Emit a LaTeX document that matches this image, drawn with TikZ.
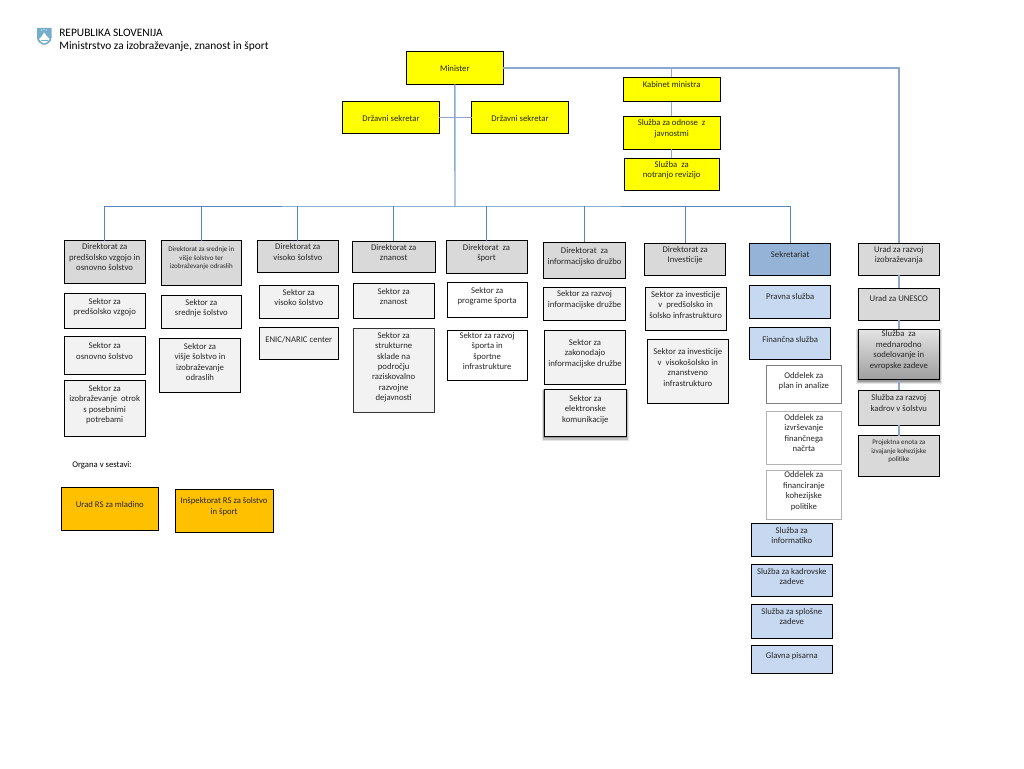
\documentclass[tikz,border=0pt]{standalone}
\usepackage{fontspec}
\setmainfont{Carlito}
\definecolor{lnA}{HTML}{5585BC}
\definecolor{lnB}{HTML}{8CA8D0}
\definecolor{yel}{HTML}{FFFF00}
\definecolor{gry}{HTML}{D9D9D9}
\definecolor{lgt}{HTML}{F2F2F2}
\definecolor{blu}{HTML}{C6D9F1}
\definecolor{dbl}{HTML}{95B3D7}
\definecolor{org}{HTML}{FFC000}
\definecolor{txt}{HTML}{262626}
\definecolor{shieldblue}{HTML}{74AEC9}
\newcommand{\bx}[8]{%
  \pgfmathsetmacro\bw{#5-#3}\pgfmathsetmacro\bh{#6-#4}\pgfmathsetmacro\bt{#7-#4-4.0}%
  \pgfmathsetmacro\cx{(#3+#5)/2}\pgfmathsetmacro\cy{(#4+#6)/2}%
  \node[#2] (#1) at (\cx,\cy) {\parbox[c][\bh pt][t]{\bw pt}{\centering\vspace*{\bt pt}\leavevmode\strut #8}};%
}
\tikzset{
  x=1pt,y=-1pt,
  boxbase/.style={draw=black,line width=1pt,inner sep=0pt,outer sep=0pt,text=txt,font=\fontsize{8.7}{10.4}\selectfont},
  yelbox/.style={boxbase,fill=yel,text=black!85!yel},
  grybox/.style={boxbase,fill=gry},
  lgtbox/.style={boxbase,fill=lgt},
  whtbox/.style={boxbase,fill=white},
  blubox/.style={boxbase,fill=blu},
  dblbox/.style={boxbase,fill=dbl},
  orgbox/.style={boxbase,fill=org},
  smalltext/.style={font=\fontsize{7}{8.5}\selectfont},
  softgrey/.style={draw=black!30},
  midgrey/.style={draw=black!50},
  softshadow/.style={
    preaction={draw=black,draw opacity=.10,line width=5pt,transform canvas={yshift=-2pt}},
    preaction={draw=black,draw opacity=.15,line width=3pt,transform canvas={yshift=-2pt}},
    preaction={draw=black,draw opacity=.20,line width=1.5pt,transform canvas={yshift=-1.5pt}}},
  linkA/.style={draw=lnA,line width=1pt},
  linkB/.style={draw=lnB,line width=1.4pt},
  plaintext/.style={inner sep=0pt,outer sep=0pt,anchor=west,text=black}
}
\begin{document}
\begin{tikzpicture}
\useasboundingbox (0,0) rectangle (1024,768);
% logo
\fill[shieldblue] (37,28) -- (51.5,28) -- (51.5,38) .. controls (51.5,42) and (47,44.5) .. (44.2,45) .. controls (41.5,44.5) and (37,42) .. (37,38) -- cycle;
\fill[white] (39,39) -- (41.5,36.5) -- (44.2,32.5) -- (47,36.5) -- (49.5,39) .. controls (48.5,41.5) and (46,43) .. (44.2,43.4) .. controls (42.5,43) and (40,41.5) .. (39,39) -- cycle;
\fill[shieldblue] (40.5,40) -- (48,40) -- (48,40.8) -- (40.5,40.8) -- cycle;
\fill[white] (41.8,30) circle (.6) (46.6,30) circle (.6) (44.2,29.6) circle (.6);
% header
\node[plaintext,font=\fontsize{11.4}{13}\selectfont] (h1) at (59.3,33.3) {REPUBLIKA SLOVENIJA};
\node[plaintext,font=\fontsize{11.4}{13}\selectfont] (h2) at (59.3,47) {Ministrstvo za izobraževanje, znanost in šport};
% top
\bx{min}{yelbox}{406.3}{52}{503.3}{84.3}{68.3}{Minister}
\bx{ds1}{yelbox}{342.7}{101.7}{439.3}{133.7}{118}{Državni sekretar}
\bx{ds2}{yelbox}{471.7}{101.7}{568.3}{133.7}{118}{Državni sekretar}
\bx{kab}{yelbox}{623.3}{77.3}{720}{101.7}{84.7}{Kabinet ministra}
\bx{odn}{yelbox}{623.3}{116}{720}{149}{122.7}{Služba za odnose\ \ z\\javnostmi}
\bx{rev}{yelbox}{624.3}{158}{719}{190.3}{164.3}{Služba\ \ za\\notranjo revizijo}
% column 1
\bx{d1}{grybox}{64.3}{240.7}{145}{283.3}{246.7}{Direktorat za\\predšolsko vzgojo in\\osnovno šolstvo}
\bx{s11}{lgtbox}{64.3}{293.3}{145}{328.7}{301}{Sektor za\\predšolsko vzgojo}
\bx{s12}{lgtbox}{64.3}{336}{145}{374.7}{345.7}{Sektor za\\osnovno šolstvo}
\bx{s13}{lgtbox}{64.3}{380}{145}{436}{388}{Sektor za\\izobraževanje\ \ otrok\\s posebnimi\\potrebami}
% column 2
\bx{d2}{grybox,smalltext}{161}{240.7}{241.7}{285.3}{250}{Direktorat za srednje in\\višje šolstvo ter\\izobraževanje odraslih}
\bx{s21}{lgtbox}{161}{295.7}{241.7}{328.3}{302.3}{Sektor za\\srednje šolstvo}
\bx{s22}{lgtbox}{159.3}{338.3}{240.7}{392.7}{346}{Sektor za\\višje šolstvo in\\izobraževanje\\odraslih}
% column 3
\bx{d3}{grybox}{257.3}{240.7}{338.3}{272.7}{246.7}{Direktorat za\\visoko šolstvo}
\bx{s31}{lgtbox}{259.3}{285.7}{338.3}{318}{292}{Sektor za\\visoko šolstvo}
\bx{s32}{lgtbox}{259.3}{327.3}{338.3}{359.3}{339.3}{ENIC/NARIC center}
% column 4
\bx{d4}{grybox}{352.3}{241}{435}{272.7}{247}{Direktorat za\\znanost}
\bx{s41}{lgtbox}{353.3}{283.3}{434}{318.7}{291}{Sektor za\\znanost}
\bx{s42}{lgtbox,draw=black!80}{353.3}{328.7}{434}{412.7}{335}{Sektor za\\strukturne\\sklade na\\področju\\raziskovalno\\razvojne\\dejavnosti}
% column 5
\bx{d5}{grybox}{446}{240.7}{527}{273.3}{247}{Direktorat\ \ za\\šport}
\bx{s51}{whtbox}{447.3}{282}{527}{317.7}{290.3}{Sektor za\\programe športa}
\bx{s52}{whtbox}{447.3}{330.7}{527}{380.3}{335}{Sektor za razvoj\\športa in\\športne\\infrastrukture}
% column 6
\bx{d6}{grybox}{543.3}{242.3}{625.7}{278}{250.7}{Direktorat\ \ za\\informacijsko družbo}
\bx{s61}{lgtbox}{543.3}{287.3}{625.7}{320}{293.7}{Sektor za razvoj\\informacijske družbe}
\bx{s62}{lgtbox}{544.3}{330.3}{625.7}{384.3}{342.3}{Sektor za\\zakonodajo\\informacijske družbe}
\bx{s63}{lgtbox,softshadow}{544}{389.7}{626.7}{436}{398}{Sektor za\\elektronske\\komunikacije}
% column 7
\bx{d7}{grybox}{644.7}{243}{725.7}{275.3}{249.3}{Direktorat za\\Investicije}
\bx{s71}{lgtbox}{645.3}{287.3}{726}{330.7}{294.3}{Sektor za investicije\\v\ \ predšolsko in\\šolsko infrastrukturo}
\bx{s72}{lgtbox}{647.3}{339.7}{728.3}{403.7}{351.7}{Sektor za investicije\\v\ \ visokošolsko in\\znanstveno\\infrastrukturo}
% column 8
\bx{d8}{dblbox}{749.7}{243}{830.7}{275.3}{254.7}{Sekretariat}
\bx{s81}{blubox}{749.7}{285.7}{830.7}{318}{296.7}{Pravna služba}
\bx{s82}{blubox}{749.7}{327}{830.7}{359.3}{339}{Finančna služba}
\bx{o1}{whtbox,midgrey}{766}{365.3}{841.7}{403.7}{375}{Oddelek za\\plan in analize}
\bx{o2}{whtbox,softgrey}{766}{411.3}{841.7}{464.3}{417.3}{Oddelek za\\izvrševanje\\finančnega\\načrta}
\bx{o3}{whtbox,softgrey}{766}{470}{841.7}{519.7}{474.7}{Oddelek za\\financiranje\\kohezijske\\politike}
\bx{s83}{blubox}{751.3}{523.7}{832.3}{556.3}{530}{Služba za\\informatiko}
\bx{s84}{blubox}{751.3}{564.3}{832.3}{596.7}{571}{Služba za kadrovske\\zadeve}
\bx{s85}{blubox}{751.3}{604}{832.3}{638.3}{611}{Služba za splošne\\zadeve}
\bx{s86}{blubox}{751.3}{645.7}{832.3}{673.7}{655}{Glavna pisarna}
% column 9
\bx{d9}{grybox}{858.3}{243}{939.3}{275.3}{249.3}{Urad za razvoj\\izobraževanja}
\bx{s91}{grybox}{858.3}{288}{939.3}{320.3}{298.7}{Urad za UNESCO}
\bx{s92}{boxbase,softshadow,top color=gry!70,bottom color=black!38}{858.3}{329}{939.3}{379.7}{333.7}{Služba\ \ za\\mednarodno\\sodelovanje in\\evropske zadeve}
\bx{s93}{grybox}{858.3}{390.3}{939.3}{425}{397.7}{Služba za razvoj\\kadrov v šolstvu}
\bx{s94}{grybox,smalltext}{858.3}{435.7}{939.3}{476.3}{443}{Projektna enota za\\izvajanje kohezijske\\politike}
% organs
\node[plaintext,font=\fontsize{8.7}{10.4}\selectfont] (org) at (72.3,465) {Organa v sestavi:};
\bx{o4}{orgbox}{61.3}{487.3}{158.3}{530.3}{504.3}{Urad RS za mladino}
\bx{o5}{orgbox}{175.3}{489.3}{273}{532.3}{500.7}{Inšpektorat RS za šolstvo\\in šport}
% connectors
\coordinate (bus) at (455,206);
\draw[linkB] (min.south) -- (bus);
\draw[linkA] (d1.north) |- (bus) -| (d8.north);
\foreach \n in {d2,d3,d4,d5,d6,d7} \draw[linkA] (\n.north) -- (\n.north |- bus);
\draw[linkB] (ds1.east) -- (ds2.west);
\draw[linkB] (min.east) -| (d9.north);
\draw[linkB] (kab.north) -- (kab.north |- min.east);
\draw[linkB] (kab.south) -- (odn.north);
\draw[linkB] (odn.south) -- (rev.north);
\draw[linkB] (d9.south) -- (s91.north);
\draw[linkB] (s91.south) -- (s92.north);
\draw[linkB] (s92.south) -- (s93.north);
\draw[linkB] (s93.south) -- (s94.north);
\end{tikzpicture}
\end{document}
